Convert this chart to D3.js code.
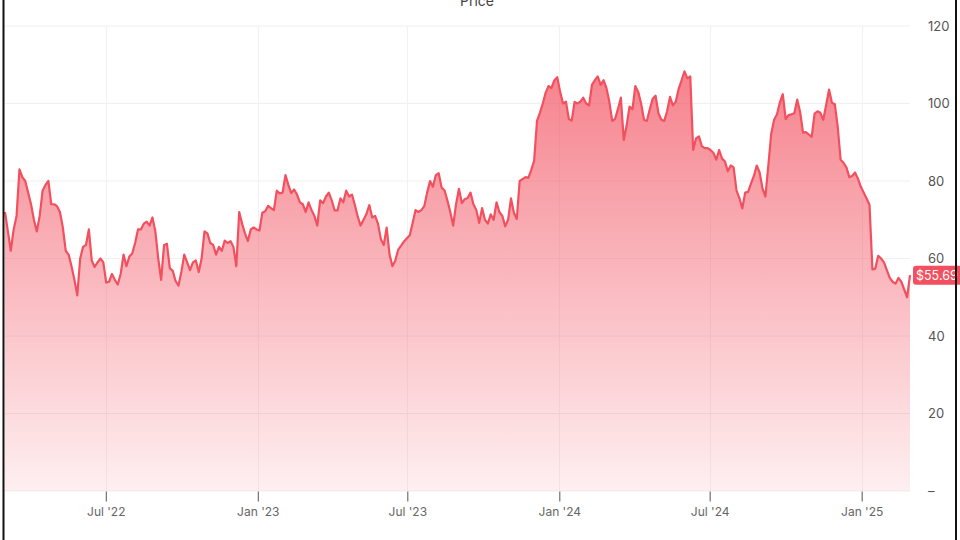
<!DOCTYPE html>
<html>
<head>
<meta charset="utf-8">
<script src="https://cdn.jsdelivr.net/npm/d3@7"></script>
<style>
  html, body { margin: 0; padding: 0; background: #fff; }
  svg { display: block; font-family: Inter, Roboto, "Noto Sans", sans-serif; }
</style>
</head>
<body>
<svg id="chart" width="960" height="540"></svg>
<script>
// ---- data ----
const startDate = "2022-03-01";     // first observation
const stepHours = 84;               // half-week sampling
const prices = [
  72, 67, 62, 67.5, 71, 83, 81, 80, 77, 74,
  70, 67, 71, 77.5, 79, 80, 74, 74, 73.5, 72,
  68, 62, 61, 58, 54.5, 50.5, 60, 63, 63.5, 67.5,
  59.5, 57.8, 59, 60, 59, 53.8, 54, 56, 54.5, 53.3,
  56, 61, 58, 60.5, 61.3, 64, 67.5, 67.5, 69, 69.5,
  68.5, 70.6, 67, 60, 54.5, 63.4, 63.8, 57.5, 56.8, 54.2,
  53, 56.6, 61, 59, 57, 59, 59.5, 56.5, 60, 67,
  66.5, 64, 63.5, 61, 63, 62, 64.6, 64, 64.5, 63,
  58, 72, 69, 66.5, 64.5, 67.5, 68, 67.5, 67.2, 71.8,
  72.2, 73.6, 73, 72.5, 77.5, 76.8, 77, 81.5, 79, 76.9,
  77.8, 76.5, 74.5, 74, 72, 74.5, 72.5, 71, 68.5, 75,
  74.3, 76, 77, 75, 72.4, 72.4, 75.5, 74.5, 77.5, 76,
  76.5, 73.8, 70.8, 68.5, 70, 71.5, 73.8, 70.6, 71, 69,
  65, 63.5, 68, 61, 58, 59.5, 62.3, 63.3, 64.4, 65.2,
  66, 69.2, 72.5, 72, 72.5, 73.5, 77, 80, 78.5, 81.5,
  82, 78.3, 77.6, 75, 72, 68.5, 74, 78, 74.3, 75.3,
  75.6, 77, 74, 72.5, 69.2, 73, 70, 69, 71.4, 70,
  74.5, 72, 71, 68.3, 70, 75.5, 71.8, 70.2, 80, 80.5,
  81, 80.8, 82.8, 85.2, 95.5, 97.6, 100, 102.8, 104.5, 104,
  106, 106.8, 103, 100, 100.5, 96, 95.6, 100.4, 100, 100.5,
  101.5, 100, 99.5, 104.8, 106, 107, 104.8, 106, 104, 100.5,
  95.5, 96, 98.6, 101.5, 90.6, 94.3, 99.2, 98.5, 104.5, 103,
  100, 95.8, 95.5, 98.5, 101.2, 102, 97.5, 95.8, 95.5, 98,
  101.7, 99.5, 100.5, 103.8, 106, 108.3, 106.5, 107, 88, 91,
  91.5, 89, 88.5, 88.5, 88, 87.3, 85.5, 88, 85.8, 85,
  82.5, 84, 83.5, 77.5, 75.6, 72.9, 77, 77.2, 79.3, 81.3,
  84, 82.2, 78, 76, 84, 92.2, 95.8, 97.2, 100.3, 102.4,
  96, 97, 97.2, 97.5, 101, 97.8, 92.5, 92.6, 92, 91.4,
  97.4, 98, 97.6, 95.8, 99.6, 103.6, 100.2, 99.8, 94, 85.5,
  84.7, 83.5, 81, 81.3, 82.2, 80.6, 78.5, 77, 75.5, 73.8,
  57.2, 57.4, 60.7, 60, 59, 57, 55, 54, 53.5, 55,
  54, 52, 50, 55.69
];
const yTickValues = [0, 20, 40, 60, 80, 100, 120];
const yTickLabels = ["–", "20", "40", "60", "80", "100", "120"];
const xTickDates = ["2022-07-01", "2023-01-01", "2023-07-01", "2024-01-01", "2024-07-01", "2025-01-01"];
const xTickLabels = ["Jul '22", "Jan '23", "Jul '23", "Jan '24", "Jul '24", "Jan '25"];
const chartTitle = "Price";
const lastLabel = "$55.69";

// ---- build ----
(function () {
const parse = d3.timeParse("%Y-%m-%d");
const t0 = parse(startDate);
const data = prices.map((v, i) => ({ date: d3.timeHour.offset(t0, i * stepHours), value: v }));

const svg = d3.select("#chart");
const pLeft = 5, pRight = 910, pTop = 26, pBottom = 491;

const x = d3.scaleTime()
  .domain([data[0].date, data[data.length - 1].date])
  .range([pLeft, pRight]);
const y = d3.scaleLinear().domain([0, 120]).range([pBottom, pTop]);

const lineColor = "#f2505f";

// gradient
const defs = svg.append("defs");
const grad = defs.append("linearGradient")
  .attr("id", "areaGrad")
  .attr("gradientUnits", "userSpaceOnUse")
  .attr("x1", 0).attr("x2", 0)
  .attr("y1", y(110)).attr("y2", y(0));
grad.append("stop").attr("offset", "0%").attr("stop-color", lineColor).attr("stop-opacity", 0.72);
grad.append("stop").attr("offset", "100%").attr("stop-color", lineColor).attr("stop-opacity", 0.09);

// gridlines
const tickDates = xTickDates.map(parse);
svg.append("g")
  .selectAll("line")
  .data(yTickValues)
  .join("line")
  .attr("x1", pLeft).attr("x2", pRight)
  .attr("y1", d => y(d)).attr("y2", d => y(d))
  .attr("stroke", "#f0f0f0").attr("stroke-width", 1);
svg.append("g")
  .selectAll("line")
  .data(tickDates)
  .join("line")
  .attr("x1", d => Math.round(x(d)) + 0.5).attr("x2", d => Math.round(x(d)) + 0.5)
  .attr("y1", pTop).attr("y2", pBottom)
  .attr("stroke", "#f2f2f2").attr("stroke-width", 1);

// area + line
const area = d3.area()
  .x(d => x(d.date))
  .y0(y(0))
  .y1(d => y(d.value));
const line = d3.line()
  .x(d => x(d.date))
  .y(d => y(d.value));

svg.append("path")
  .datum(data)
  .attr("d", area)
  .attr("fill", "url(#areaGrad)");

svg.append("path")
  .datum(data)
  .attr("d", line)
  .attr("fill", "none")
  .attr("stroke", lineColor)
  .attr("stroke-width", 2.2)
  .attr("stroke-linejoin", "round");

// x axis
const xAxis = d3.axisBottom(x)
  .tickValues(tickDates)
  .tickFormat((d, i) => xTickLabels[i])
  .tickSize(10)
  .tickPadding(6);
const gx = svg.append("g")
  .attr("transform", `translate(0,${pBottom + 0.5})`)
  .call(xAxis);
gx.select(".domain").remove();
gx.selectAll(".tick line").attr("stroke", "#555").attr("stroke-width", 1);
gx.selectAll(".tick text")
  .attr("fill", "#666")
  .style("font-family", "Inter, Roboto, sans-serif")
  .style("font-size", "12px");

// y axis (right)
const yAxis = d3.axisRight(y)
  .tickValues(yTickValues)
  .tickFormat((d, i) => yTickLabels[i])
  .tickSize(0)
  .tickPadding(18);
const gy = svg.append("g")
  .attr("transform", `translate(${pRight},0)`)
  .call(yAxis);
gy.select(".domain").remove();
gy.selectAll(".tick text")
  .attr("fill", "#555")
  .style("font-family", "Inter, Roboto, sans-serif")
  .style("font-size", "13px");

// title
svg.append("text")
  .attr("x", 477).attr("y", 6)
  .attr("text-anchor", "middle")
  .attr("fill", "#444")
  .style("font-size", "14px")
  .text(chartTitle);

// last-price label
const last = data[data.length - 1];
const ly = y(last.value);
svg.append("rect")
  .attr("x", pRight + 3).attr("y", ly - 9.5)
  .attr("width", 60).attr("height", 19)
  .attr("rx", 3)
  .attr("fill", lineColor);
svg.append("text")
  .attr("x", pRight + 6).attr("y", ly)
  .attr("dy", "0.35em")
  .attr("fill", "#fff")
  .style("font-size", "12.5px")
  .text(lastLabel);

// frame edges
svg.append("line").attr("x1", 3.5).attr("x2", 3.5).attr("y1", 0).attr("y2", 540)
  .attr("stroke", "#111").attr("stroke-width", 2);
svg.append("line").attr("x1", 956).attr("x2", 956).attr("y1", 0).attr("y2", 540)
  .attr("stroke", "#111").attr("stroke-width", 2);
})();
</script>
</body>
</html>
